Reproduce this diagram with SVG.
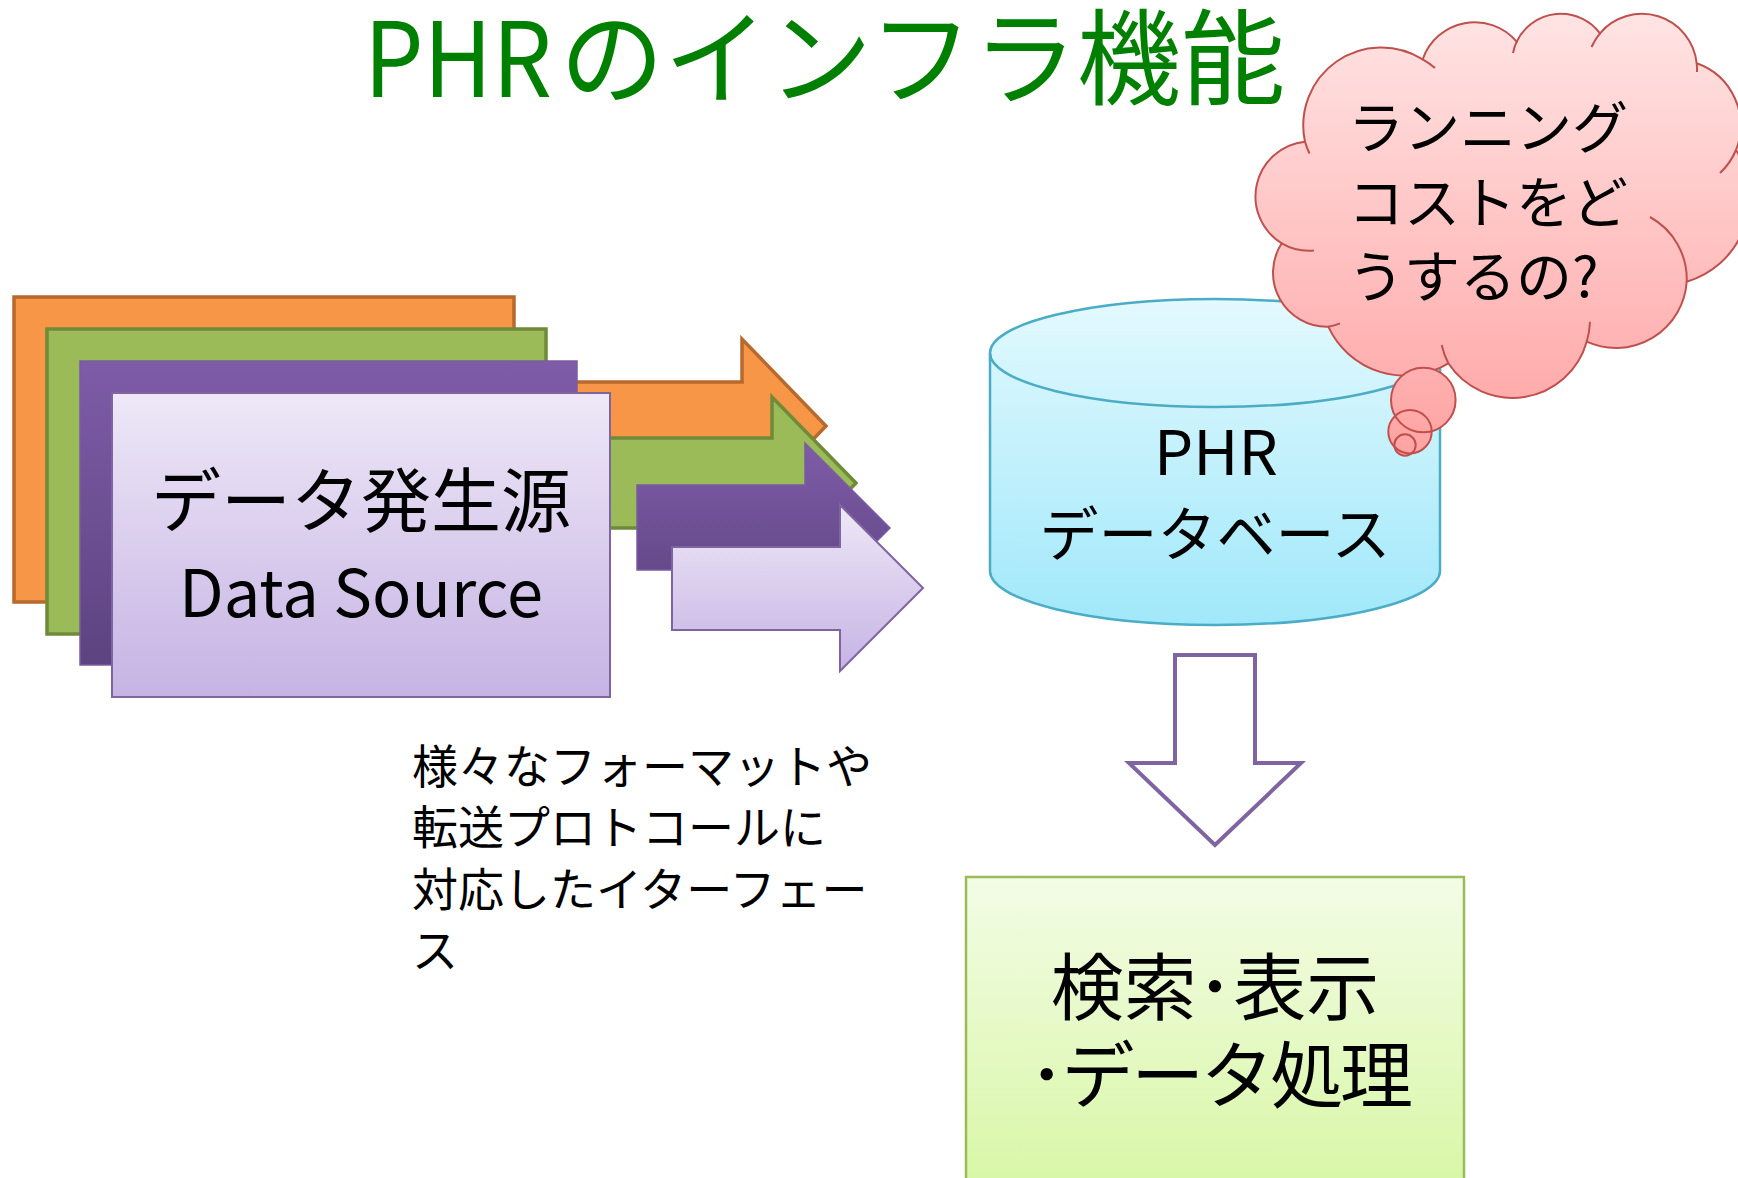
<svg xmlns="http://www.w3.org/2000/svg" width="1738" height="1178" viewBox="0 0 1738 1178">
  <defs>
    <linearGradient id="gLight" x1="0" y1="0" x2="0" y2="1">
      <stop offset="0" stop-color="#EEE8F7"/>
      <stop offset="1" stop-color="#C6B3E4"/>
    </linearGradient>
    <linearGradient id="gPurple" x1="0" y1="0" x2="0" y2="1">
      <stop offset="0" stop-color="#7E5CA8"/>
      <stop offset="1" stop-color="#5D4380"/>
    </linearGradient>
    <linearGradient id="gCyl" x1="0" y1="0" x2="0" y2="1">
      <stop offset="0" stop-color="#E3F9FE"/>
      <stop offset="1" stop-color="#A0E8FA"/>
    </linearGradient>
    <linearGradient id="gCloud" gradientUnits="userSpaceOnUse" x1="0" y1="14" x2="0" y2="456">
      <stop offset="0" stop-color="#FFE4E4"/>
      <stop offset="1" stop-color="#FFA3A3"/>
    </linearGradient>
    <linearGradient id="gGreenBox" gradientUnits="userSpaceOnUse" x1="0" y1="877" x2="0" y2="1178">
      <stop offset="0" stop-color="#F3FCE6"/>
      <stop offset="1" stop-color="#D9F7A8"/>
    </linearGradient>
  </defs>
  <style>
    .jp { font-family: "Noto Sans CJK JP", "Noto Sans", sans-serif; fill: #000; }
    .orange { fill: #F79646; stroke: #B7692E; stroke-width: 3.5; stroke-linejoin: miter; }
    .green { fill: #9BBB59; stroke: #6F8B3A; stroke-width: 3.5; stroke-linejoin: miter; }
    .purple { fill: url(#gPurple); stroke: #7A5CA2; stroke-width: 1.5; }
    .light { fill: url(#gLight); stroke: #8064A2; stroke-width: 2; }
    .cloudStroke { fill: none; stroke: #C0504D; stroke-width: 2; }
  </style>

  <g id="title">
    <text class="jp" y="97" font-size="104" style="fill:#008000"><tspan x="364" textLength="188" lengthAdjust="spacingAndGlyphs">PHR</tspan><tspan x="560">のインフラ機能</tspan></text>
  </g>

  <g id="source-orange">
    <rect class="orange" x="14" y="297" width="500" height="305"/>
    <polygon class="orange" points="500,382 742,382 742,339 826,426 742,513 742,470 500,470"/>
  </g>
  <g id="source-green">
    <rect class="green" x="47" y="329" width="499" height="305"/>
    <polygon class="green" points="530,438 772,438 772,397 856,483 772,569 772,528 530,528"/>
  </g>
  <g id="source-purple">
    <rect class="purple" x="80" y="361" width="497" height="304"/>
    <polygon class="purple" points="637,485 805,485 805,443 890,528 805,613 805,570 637,570"/>
  </g>
  <g id="source-main">
    <rect class="light" x="112" y="393" width="498" height="304"/>
    <text class="jp" x="361" y="527" font-size="70" text-anchor="middle">データ発生源</text>
    <text class="jp" x="361" y="617" font-size="65" text-anchor="middle">Data Source</text>
  </g>

  <g id="connectors">
    <polygon points="672,547 840,547 840,505 923,588 840,671 840,630 672,630" fill="url(#gLight)" stroke="#8064A2" stroke-width="2"/>
    <polygon points="1175,655 1255,655 1255,763 1301,763 1215,845 1129,763 1175,763" fill="#FFFFFF" stroke="#8064A2" stroke-width="4"/>
  </g>

  <g id="note">
    <text class="jp" x="412" y="783" font-size="46">様々なフォーマットや</text>
    <text class="jp" x="412" y="844" font-size="46">転送プロトコールに</text>
    <text class="jp" x="412" y="906" font-size="46">対応したイターフェー</text>
    <text class="jp" x="412" y="967" font-size="46">ス</text>
  </g>

  <g id="database">
    <path d="M990,353 A225 54 0 0 1 1440,353 V571 A225 54 0 0 1 990,571 Z" fill="url(#gCyl)" stroke="#4BACC6" stroke-width="2.5"/>
    <path d="M990,353 A225 54 0 0 0 1440,353" fill="none" stroke="#4BACC6" stroke-width="2.5"/>
    <text class="jp" x="1216" y="475" font-size="62" text-anchor="middle">PHR</text>
    <text class="jp" x="1215" y="556" font-size="59" text-anchor="middle">データベース</text>
  </g>

  <g id="cloud">
    <path d="M1281.7,243.3 A55 55 0 0 1 1305,141.7 A78 78 0 0 1 1422.7,59.3 A55 55 0 0 1 1516.7,41.7 A49 49 0 0 1 1600,33.3 A55 55 0 0 1 1696.7,63.3 A66 66 0 0 1 1736,150 A88 88 0 0 1 1686.7,281.7 A71 71 0 0 1 1586.7,341.7 A77 77 0 0 1 1448.3,363.3 A84 84 0 0 1 1328.3,326.7 A54 54 0 0 1 1281.7,243.3 Z" fill="url(#gCloud)" stroke="#C0504D" stroke-width="2"/>
    <path class="cloudStroke" d="M1281.7,243.3 A55 55 0 0 0 1314,250.5 M1305,141.7 A78 78 0 0 0 1309.5,153.5 M1422.7,59.3 A78 78 0 0 1 1435,68 M1516.7,41.7 A49 49 0 0 0 1513,53 M1600,33.3 A55 55 0 0 0 1591.5,47 M1696.7,63.3 A55 55 0 0 1 1697,72 M1736,150 A66 66 0 0 1 1720,173 M1650,217 A71 71 0 0 1 1686.7,281.7 M1590,321.7 A77 77 0 0 1 1586.7,341.7 M1448.3,363.3 A77 77 0 0 1 1441.7,345 M1328.3,326.7 A54 54 0 0 0 1340,323.3"/>
    <g fill="url(#gCloud)">
      <circle cx="1423.3" cy="400" r="32.3"/>
      <circle cx="1410" cy="431.7" r="21.7"/>
      <circle cx="1405" cy="445" r="10.7"/>
    </g>
    <g class="cloudStroke">
      <circle cx="1423.3" cy="400" r="32.3"/>
      <circle cx="1410" cy="431.7" r="21.7"/>
      <circle cx="1405" cy="445" r="10.7"/>
    </g>
    <text class="jp" x="1348" y="148" font-size="56">ランニング</text>
    <text class="jp" x="1348" y="223" font-size="56">コストをど</text>
    <text class="jp" x="1348" y="297" font-size="56">うするの?</text>
  </g>

  <g id="result">
    <rect x="966" y="877" width="498" height="320" fill="url(#gGreenBox)" stroke="#9BBB59" stroke-width="2.5"/>
    <text class="jp" font-size="73" text-anchor="middle"><tspan x="1215" y="1014">検索･表示</tspan><tspan x="1219" y="1102" letter-spacing="-3.4">･データ処理</tspan></text>
  </g>
</svg>
